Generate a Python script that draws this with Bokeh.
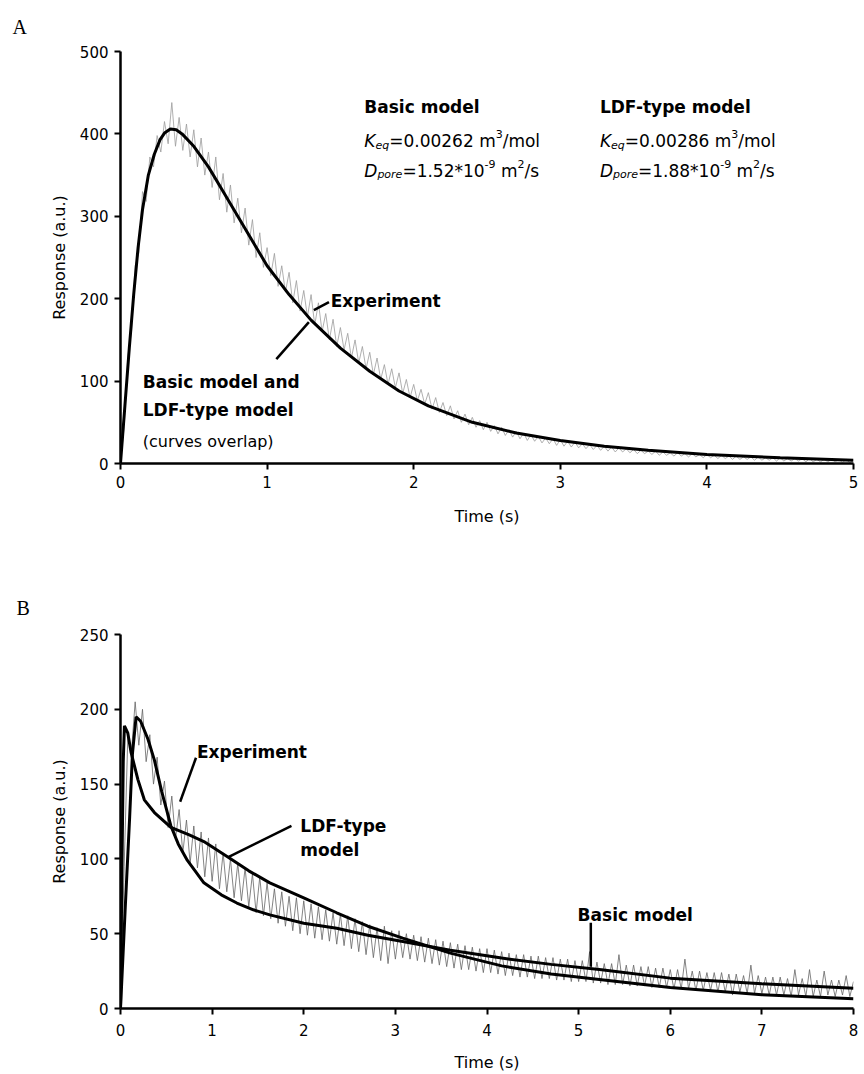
from bokeh.plotting import figure
from bokeh.models import Range1d, FixedTicker, Label
from bokeh.layouts import column
from bokeh.embed import file_html
from bokeh.resources import INLINE

# ---------------- data: panel A ----------------
a_xticks = [0, 1, 2, 3, 4, 5]
a_yticks = [0, 100, 200, 300, 400, 500]
a_model_t = [0, 0.03, 0.06, 0.09, 0.12, 0.15, 0.19, 0.23, 0.27, 0.3, 0.34, 0.38, 0.42, 0.5, 0.6, 0.7,
             0.8, 0.9, 1.0, 1.15, 1.3, 1.5, 1.7, 1.9, 2.1, 2.4, 2.7, 3.0, 3.3, 3.6, 4.0, 4.5, 5.0]
a_model_y = [0, 70, 140, 205, 262, 308, 350, 375, 393, 401, 406, 405, 400, 385, 360, 330,
             300, 270, 240, 205, 174, 140, 112, 88, 70, 50, 37, 28, 21, 16, 11, 7, 4]
a_exp_step = 0.025
a_exp_y = [0, 45, 130, 160, 240, 255, 330, 318, 372, 360, 398, 378, 415, 388, 438, 385, 420, 380, 412, 372,
           405, 360, 395, 350, 378, 335, 372, 320, 352, 305, 338, 292, 322, 280, 310, 265, 296, 250, 280, 238,
           262, 228, 255, 215, 240, 208, 232, 195, 222, 185, 210, 178, 205, 168, 195, 160, 182, 150, 175, 142,
           165, 138, 158, 128, 150, 122, 142, 115, 135, 108, 128, 102, 120, 96, 115, 92, 110, 85, 102, 80,
           96, 76, 90, 72, 86, 66, 80, 62, 74, 58, 70, 54, 64, 50, 60, 47, 56, 44, 52, 41,
           50, 39, 46, 36, 44, 34, 41, 32, 39, 30, 37, 28, 35, 27, 33, 25, 31, 24, 30, 22,
           29, 21, 27, 20, 26, 19, 24, 18, 23, 17, 22, 16, 21, 15, 20, 14, 19, 14, 18, 13,
           17, 12, 16, 12, 15, 11, 15, 10, 14, 10, 13, 9, 13, 9, 12, 8, 12, 8, 11, 7,
           11, 7, 10, 6, 10, 6, 9, 5, 9, 5, 8, 5, 8, 4, 8, 4, 7, 4, 7, 3,
           7, 3, 6, 3, 6, 3, 6, 2, 6, 2, 5, 2, 5, 2, 5, 2, 5, 1, 5, 1, 4]
a_exp_t = [round(i * a_exp_step, 3) for i in range(len(a_exp_y))]

# ---------------- data: panel B ----------------
b_xticks = [0, 1, 2, 3, 4, 5, 6, 7, 8]
b_yticks = [0, 50, 100, 150, 200, 250]
b_basic_t = [0, 0.05, 0.1, 0.13, 0.17, 0.22, 0.3, 0.37, 0.45, 0.55, 0.63, 0.73, 0.91, 1.1, 1.27, 1.45,
             1.63, 2.0, 2.36, 2.7, 3.08, 3.6, 4.16, 4.7, 5.25, 6.0, 7.0, 8.0]
b_basic_y = [0, 65, 128, 170, 195, 192, 180, 166, 145, 122, 110, 99, 84, 76, 70.5, 66,
             62.6, 57, 53.7, 49, 44.8, 39, 33.7, 29.5, 25.9, 20.3, 16.5, 13.6]
b_ldf_t = [0, 0.015, 0.03, 0.043, 0.08, 0.116, 0.19, 0.26, 0.37, 0.55, 0.75, 0.91, 1.18, 1.4, 1.63,
           2.0, 2.36, 2.7, 3.08, 3.6, 4.16, 4.7, 5.25, 6.0, 7.0, 8.0]
b_ldf_y = [0, 90, 165, 189, 184, 171, 153, 139.5, 131, 121, 116, 111.6, 101, 92, 84,
           74, 64, 55, 47, 37, 28.5, 23, 19.2, 14, 9.2, 6.5]
b_exp_step = 0.04
b_exp_y = [0, 95, 182, 172, 205, 176, 200, 165, 183, 150, 168, 136, 152, 121, 142, 113, 133, 104, 126, 97,
           122, 94, 118, 88, 114, 85, 110, 80, 104, 78, 100, 74, 97, 72, 94, 68, 90, 64, 88, 62,
           84, 60, 80, 57, 78, 55, 75, 52, 74, 50, 72, 49, 70, 47, 68, 46, 66, 45, 64, 43,
           63, 42, 62, 40, 60, 38, 58, 36, 56, 34, 54, 32, 55, 30, 52, 33, 52, 34, 50, 33,
           49, 32, 48, 31, 47, 30, 46, 29, 45, 28, 44, 27, 43, 26, 42, 26, 41, 25, 40, 24,
           40, 24, 39, 23, 38, 22, 37, 22, 36, 21, 36, 21, 35, 20, 35, 20, 34, 20, 34, 19,
           33, 19, 33, 18, 32, 18, 32, 18, 38, 17, 31, 17, 30, 16, 30, 16, 36, 16, 29, 15,
           29, 15, 28, 15, 28, 14, 27, 14, 27, 14, 26, 13, 26, 13, 33, 13, 25, 12, 25, 12,
           24, 12, 24, 11, 24, 11, 23, 9, 23, 11, 22, 10, 29, 10, 22, 10, 21, 9, 21, 9,
           21, 9, 20, 8, 26, 9, 20, 8, 26, 8, 19, 8, 25, 9, 19, 8, 19, 9, 22, 8, 18]
b_exp_t = [round(i * b_exp_step, 3) for i in range(len(b_exp_y))]

# ---------------- styling helpers ----------------
FONT = "DejaVu Sans"
W = {' ': 318, '*': 500, '-': 361, '.': 318, '/': 337, '=': 838, 'D': 770, 'K': 656,
     'e': 615, 'l': 278, 'm': 974, 'o': 612, 'p': 635, 'q': 635, 'r': 411, 's': 521}
for d in "0123456789":
    W[d] = 636


def text_width(s, size):
    return sum(W[c] for c in s) / 1000.0 * size


def style(p, xt, yt, xstand, ystand, xlabstand, ylabstand):
    p.xaxis.ticker = FixedTicker(ticks=xt)
    p.yaxis.ticker = FixedTicker(ticks=yt)
    for ax in (p.xaxis[0], p.yaxis[0]):
        ax.axis_line_width = 2.5
        ax.axis_line_color = "black"
        ax.major_tick_line_width = 2
        ax.major_tick_line_color = "black"
        ax.major_tick_out = 6
        ax.major_tick_in = 0
        ax.minor_tick_line_color = None
        ax.major_label_text_font = FONT
        ax.major_label_text_font_size = "15px"
        ax.major_label_text_color = "black"
        ax.axis_label_text_font = FONT
        ax.axis_label_text_font_size = "16px"
        ax.axis_label_text_font_style = "normal"
        ax.axis_label_text_color = "black"
    p.xaxis.major_label_standoff = xlabstand
    p.yaxis.major_label_standoff = ylabstand
    p.xaxis.axis_label_standoff = xstand
    p.yaxis.axis_label_standoff = ystand
    p.xaxis.axis_label = "Time (s)"
    p.yaxis.axis_label = "Response (a.u.)"
    p.grid.visible = False
    p.outline_line_color = None
    p.background_fill_color = "white"
    p.border_fill_color = "white"


def panel_letter(p, letter, offset, standoff):
    p.title.text = letter
    p.title.text_font = "Liberation Serif"
    p.title.text_font_size = "20px"
    p.title.text_font_style = "normal"
    p.title.text_color = "black"
    p.title.align = "left"
    p.title.offset = offset
    p.title.standoff = standoff


def label(p, x, y, text, size=17, style_="bold", font=FONT, dx=0, dy=0):
    p.add_layout(Label(x=x, y=y, x_offset=dx, y_offset=dy, text=text, text_font=font,
                       text_font_size=f"{size}px", text_font_style=style_,
                       text_baseline="alphabetic", text_align="left", text_color="black"))


def rich(p, x, y, parts):
    off = 0.0
    for txt, size, st, dy in parts:
        stripped = txt.lstrip(" ")
        off += text_width(txt[:len(txt) - len(stripped)], size)
        label(p, x, y, stripped, size=size, style_=st, dx=off, dy=dy)
        off += text_width(stripped, size)


# ---------------- panel A ----------------
pa = figure(width=864, height=540, x_range=Range1d(0, 5), y_range=Range1d(0, 500),
            output_backend="svg", toolbar_location=None,
            min_border_left=120, min_border_right=2, min_border_top=51, min_border_bottom=77)
style(pa, a_xticks, a_yticks, 16, 8, 6, 6)
panel_letter(pa, "A", -108, 27)
pa.line(a_exp_t, a_exp_y, line_color="#9c9c9c", line_width=0.8)
pa.line(a_model_t, a_model_y, line_color="black", line_width=3)

label(pa, 1.663, 433, "Basic model")
label(pa, 3.27, 433, "LDF-type model")
rich(pa, 1.663, 391, [("K", 17, "italic", 0), ("eq", 11, "italic", -4),
                      ("=0.00262 m", 17, "normal", 0), ("3", 11, "normal", 7), ("/mol", 17, "normal", 0)])
rich(pa, 3.27, 391, [("K", 17, "italic", 0), ("eq", 11, "italic", -4),
                     ("=0.00286 m", 17, "normal", 0), ("3", 11, "normal", 7), ("/mol", 17, "normal", 0)])
rich(pa, 1.663, 355, [("D", 17, "italic", 0), ("pore", 11, "italic", -4),
                      ("=1.52*10", 17, "normal", 0), ("-9", 11, "normal", 7), (" m", 17, "normal", 0),
                      ("2", 11, "normal", 7), ("/s", 17, "normal", 0)])
rich(pa, 3.27, 355, [("D", 17, "italic", 0), ("pore", 11, "italic", -4),
                     ("=1.88*10", 17, "normal", 0), ("-9", 11, "normal", 7), (" m", 17, "normal", 0),
                     ("2", 11, "normal", 7), ("/s", 17, "normal", 0)])
label(pa, 1.434, 197, "Experiment")
label(pa, 0.152, 98.8, "Basic model and")
label(pa, 0.152, 64.8, "LDF-type model")
label(pa, 0.152, 27.3, "(curves overlap)", size=16, style_="normal")
pa.segment(x0=[1.422, 1.063], y0=[195.8, 126.7], x1=[1.319, 1.285], y1=[186.1, 171.5],
           line_color="black", line_width=2.5)

# ---------------- panel B ----------------
pb = figure(width=864, height=534, x_range=Range1d(0, 8), y_range=Range1d(0, 250),
            output_backend="svg", toolbar_location=None,
            min_border_left=116, min_border_right=11, min_border_top=94, min_border_bottom=65)
style(pb, b_xticks, b_yticks, 14, 8, 9, 6)
panel_letter(pb, "B", -104, 32)
pb.line(b_exp_t, b_exp_y, line_color="#646464", line_width=0.8)
pb.line(b_basic_t, b_basic_y, line_color="black", line_width=3)
pb.line(b_ldf_t, b_ldf_y, line_color="black", line_width=3)

label(pb, 0.835, 171.6, "Experiment")
label(pb, 1.963, 122.1, "LDF-type")
label(pb, 1.963, 106.1, "model")
label(pb, 4.989, 62.6, "Basic model")
pb.segment(x0=[0.824, 1.866, 5.133], y0=[167.6, 122.1, 57.3],
           x1=[0.651, 1.182, 5.133], y1=[138.2, 101.4, 27.9],
           line_color="black", line_width=2.5)

layout = column(pa, pb, spacing=0)
open("out.html", "w").write(file_html(layout, INLINE))
